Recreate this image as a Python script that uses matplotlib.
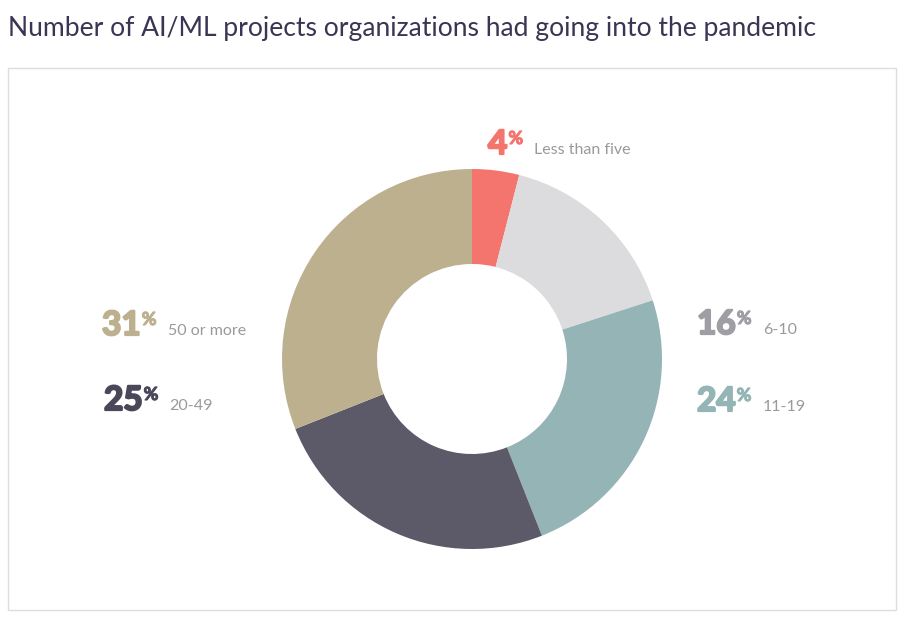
import matplotlib.pyplot as plt
import matplotlib.patheffects as pe
from matplotlib.patches import Rectangle

# data
shares = [4, 16, 24, 25, 31]
groups = ["Less than five", "6-10", "11-19", "20-49", "50 or more"]
colors = ["#F4756E", "#DCDCDE", "#94B4B6", "#5C5A68", "#BCB08E"]
num_colors = ["#F4756E", "#9E9EA4", "#94B4B6", "#4A4858", "#BCB08E"]

W, H = 900, 619
fig = plt.figure(figsize=(9, 6.19), dpi=100)
ax = fig.add_axes([0, 0, 1, 1])

def py(y):
    return H - y

# donut
ax.pie(shares, colors=colors, startangle=90, counterclock=False,
       center=(472, py(359)), radius=190, wedgeprops=dict(width=95, linewidth=0),
       frame=True)
ax.set_xlim(0, W)
ax.set_ylim(0, H)
ax.set_aspect("equal")
ax.axis("off")

# frame + title
ax.add_patch(Rectangle((8, py(610)), 888, 542, fill=False, edgecolor="#DDDDDD", lw=1))
ax.text(8, py(36), "Number of AI/ML projects organizations had going into the pandemic",
        fontsize=19.1, family="Lato", color="#3B3553", va="baseline")

# label anchor spots (left edge of number, baseline)
spots = [(488, 154), (697, 334), (697, 411), (104, 410), (102, 335)]

fig.canvas.draw()
r = fig.canvas.get_renderer()
inv = ax.transData.inverted()
for val, grp, c, (x, y) in zip(shares, groups, num_colors, spots):
    thick = [pe.withStroke(linewidth=1.6, foreground=c)]
    t = ax.text(x, py(y), str(val), fontsize=24, family="Lato", weight="bold",
                color=c, va="baseline", path_effects=thick)
    bb = t.get_window_extent(r)
    x1, _ = inv.transform((bb.x1, bb.y1))
    p = ax.text(x1 + 1, py(y) + 24, "%", fontsize=13, family="Lato", weight="bold",
                color=c, va="top", path_effects=[pe.withStroke(linewidth=0.8, foreground=c)])
    pb = p.get_window_extent(r)
    x2, _ = inv.transform((pb.x1, pb.y1))
    ax.text(x2 + 11, py(y), grp, fontsize=11.5, family="Lato", color="#9A9A9E",
            va="baseline")

fig.savefig("out.png", dpi=100)
